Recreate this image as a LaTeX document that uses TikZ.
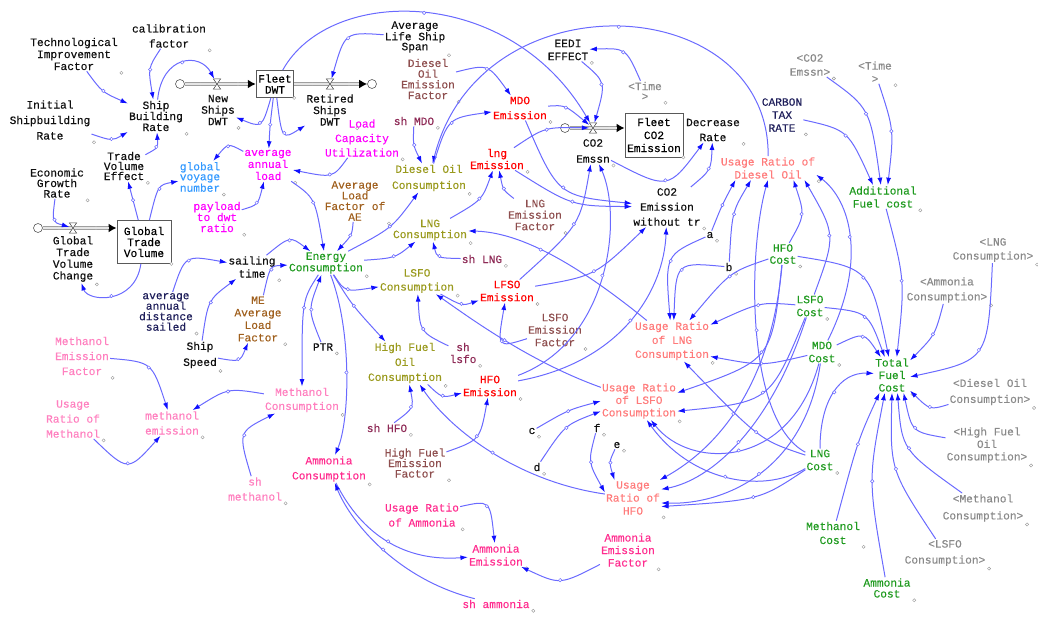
\documentclass[tikz,border=0pt]{standalone}
\usepackage{fontspec}
\newfontfamily\vmono[FakeBold=0.3]{Liberation Mono}
\usetikzlibrary{arrows.meta}
\definecolor{linkc}{HTML}{6A6AFF}
\definecolor{tipc}{HTML}{1010FF}
\definecolor{cblk}{HTML}{101010}
\definecolor{cblue}{HTML}{3399FF}
\definecolor{cmag}{HTML}{FF00FF}
\definecolor{colive}{HTML}{9A9A1E}
\definecolor{cgreen}{HTML}{1F9A1F}
\definecolor{cred}{HTML}{FF0000}
\definecolor{cbrown}{HTML}{8E4E4E}
\definecolor{csienna}{HTML}{A0601E}
\definecolor{cmaroon}{HTML}{8E2A56}
\definecolor{csalmon}{HTML}{FF7B7B}
\definecolor{clpink}{HTML}{FF80BF}
\definecolor{cpink}{HTML}{FF2D8F}
\definecolor{cnavy}{HTML}{1E1E5A}
\definecolor{cgray}{HTML}{8A8A8A}
\newcommand\vf[1]{\vmono\fontsize{11.2}{#1}\selectfont}
\begin{document}
\begin{tikzpicture}[x=1pt,y=-1pt,
  mk/.style={circle,draw=gray!80,fill=white,line width=0.4pt,inner sep=0pt,minimum size=3.2pt},
  hc/.style={circle,draw=linkc,fill=white,line width=0.5pt,inner sep=0pt,minimum size=3.4pt,pos=.5},
  v/.style={font=\vf{12},text=cblk,align=center,inner sep=1pt,
    append after command={node[mk] at ([shift={(2.5pt,-1.5pt)}]\tikzlastnode.south east) {}}},
  stock/.style={draw=gray!70!black,line width=0.8pt,fill=white,align=center,font=\vf{11},inner sep=2pt,
    append after command={node[mk] at (\tikzlastnode.south east) {}}},
  lk/.style={draw=linkc,line width=1pt,-{Latex[length=7.5pt,width=5pt,color=tipc]}},
  pipe/.style={draw=gray!75,line width=3.4pt,-{Latex[length=8pt,width=9pt,color=black]}},
  pipein/.style={draw=gray!20,line width=1.2pt,shorten >=8pt},
  valve/.style={rectangle,minimum width=7pt,minimum height=10pt,inner sep=0pt},
  hg/.style={draw=gray!50!black,fill=white,line width=0.5pt},
  cloudn/.style={circle,draw=gray!70!black,fill=white,line width=0.6pt,minimum size=9pt,inner sep=0pt}
]
\useasboundingbox (0,0) rectangle (1038,620);

% ---------- ship fleet sector ----------
\node[v] (tif) at (74,54) {Technological\\Improvement\\Factor};
\node[v,font=\vf{15}] (cal) at (169,36) {calibration\\factor};
\node[v,font=\vf{15.5}] (isr) at (50,120) {Initial\\Shipbuilding\\Rate};
\node[v,font=\vf{11}] (sbr) at (156,116) {Ship\\Building\\Rate};
\node[v,font=\vf{10.5}] (egr) at (57,183) {Economic\\Growth\\Rate};
\node[v,font=\vf{10}] (tve) at (124,166) {Trade\\Volume\\Effect};
\node[v,font=\vf{10},text=cblue] (gvn) at (200,177) {global\\voyage\\number};
\node[v,font=\vf{11.5}] (nsd) at (218,110) {New\\Ships\\DWT};
\node[stock,minimum width=36pt,minimum height=27pt] (fleet) at (275,84) {Fleet\\DWT};
\node[v,font=\vf{11.5}] (rsd) at (330,110) {Retired\\Ships\\DWT};
\node[v,font=\vf{10}] (alss) at (415,37) {Average\\Life Ship\\Span};

\node[v,font=\vf{10.7},text=cbrown] (doef) at (428,79) {Diesel\\Oil\\Emission\\Factor};
\node[v,text=cmaroon] (shmdo) at (414,121) {sh MDO};
\node[v,font=\vf{14.5},text=cmag] (lcu) at (362,138) {Load\\Capacity\\Utilization};
\node[v,text=cmag] (aal) at (268,165) {average\\annual\\load};
\node[v,font=\vf{16},text=colive] (doc) at (429,178) {Diesel Oil\\Consumption};
\node[v,font=\vf{10.7},text=csienna] (alfae) at (355,201) {Average\\Load\\Factor of\\AE};
\node[v,font=\vf{11},text=cmag] (ptdr) at (217,217) {payload\\to dwt\\ratio};
\node[stock,minimum width=54pt,minimum height=43pt] (gtv) at (144,242) {Global\\Trade\\Volume};
\node[v,font=\vf{11.7}] (gtvc) at (73,259) {Global\\Trade\\Volume\\Change};
\node[v,font=\vf{10.5},text=cnavy] (aads) at (166,312) {average\\annual\\distance\\sailed};
\node[v,font=\vf{13}] (st) at (252,267) {sailing\\time};
\node[v,font=\vf{16}] (ss) at (200,355) {Ship\\Speed};
\node[v,font=\vf{12.5},text=csienna] (meal) at (258,319) {ME\\Average\\Load\\Factor};
\node[v] (ptr) at (323,347) {PTR};
\node[v,font=\vf{10},text=cgreen] (ec) at (326,263) {Energy\\Consumption};

% ---------- fuels and emissions ----------
\node[v,font=\vf{11},text=colive] (lngc) at (430,230) {LNG\\Consumption};
\node[v,text=cmaroon] (shlng) at (482,259) {sh LNG};
\node[v,font=\vf{14},text=colive] (lsfoc) at (417,281) {LSFO\\Consumption};
\node[v,text=cmaroon] (shlsfo) at (463,353) {sh\\lsfo};
\node[v,font=\vf{15},text=colive] (hfoc) at (405,363) {High Fuel\\Oil\\Consumption};
\node[v,font=\vf{14},text=clpink] (mc) at (302,400) {Methanol\\Consumption};
\node[v,font=\vf{13},text=cred] (hfoe) at (490,386) {HFO\\Emission};
\node[v,font=\vf{13},text=cred] (lfsoe) at (507,291) {LFSO\\Emission};
\node[v,font=\vf{12.5},text=cbrown] (lsfoef) at (555,330) {LSFO\\Emission\\Factor};
\node[v,font=\vf{11.5},text=cbrown] (lngef) at (535,215) {LNG\\Emission\\Factor};
\node[v,text=cred] (lnge) at (497,159) {lng\\Emission};
\node[v,font=\vf{15},text=cred] (mdoe) at (520,108) {MDO\\Emission};
\node[v,font=\vf{16}] (co2e) at (593,151) {CO2\\Emssn};
\node[stock,font=\vf{13},minimum width=58pt,minimum height=44pt] (fco2) at (654,135) {Fleet\\CO2\\Emission};
\node[v,font=\vf{15}] (dr) at (713,130) {Decrease\\Rate};
\node[v,font=\vf{13}] (eedi) at (568,50) {EEDI\\EFFECT};
\node[v,font=\vf{10},text=cgray] (time1) at (645,91) {<Time\\>};
\node[v,font=\vf{15}] (co2wt) at (667,207) {CO2\\Emission\\without tr};

% ---------- costs and usage ratios ----------
\node[v,font=\vf{13},text=csalmon] (urdo) at (768,168) {Usage Ratio of\\Diesel Oil};
\node[v,font=\vf{13},text=cnavy] (ctr) at (782,115) {CARBON\\TAX\\RATE};
\node[v,font=\vf{14},text=cgray] (sco2) at (810,65) {<CO2\\Emssn>};
\node[v,font=\vf{13},text=cgray] (time2) at (875,72) {<Time\\>};
\node[v,font=\vf{13},text=cgreen] (afc) at (883,197) {Additional\\Fuel cost};
\node[v] (pa) at (710,235) {a};
\node[v] (pb) at (729,267) {b};
\node[v,text=cgreen] (hfocost) at (783,254) {HFO\\Cost};
\node[v,font=\vf{13},text=cgreen] (lsfocost) at (810,306) {LSFO\\Cost};
\node[v,font=\vf{13},text=cgreen] (mdocost) at (822,352) {MDO\\Cost};
\node[v,font=\vf{12.5},text=cgreen] (tfc) at (892,375) {Total\\Fuel\\Cost};
\node[v,font=\vf{14},text=cgray] (slng) at (993,250) {<LNG\\Consumption>};
\node[v,font=\vf{15},text=cgray] (samm) at (947,290) {<Ammonia\\Consumption>};
\node[v,font=\vf{16},text=cgray] (sdo) at (990,392) {<Diesel Oil\\Consumption>};
\node[v,font=\vf{12.5},text=cgray] (shfo) at (987,445) {<High Fuel\\Oil\\Consumption>};
\node[v,font=\vf{17},text=cgray] (smeth) at (983,508) {<Methanol\\Consumption>};
\node[v,font=\vf{16},text=cgray] (slsfo) at (945,553) {<LSFO\\Consumption>};
\node[v,font=\vf{13},text=cgreen] (lngcost) at (820,460) {LNG\\Cost};
\node[v,font=\vf{14},text=cgreen] (mcost) at (833,533) {Methanol\\Cost};
\node[v,font=\vf{11},text=cgreen] (acost) at (887,588) {Ammonia\\Cost};
\node[v,font=\vf{14},text=csalmon] (urlng) at (672,341) {Usage Ratio\\of LNG\\Consumption};
\node[v,font=\vf{12.5},text=csalmon] (urlsfo) at (639,401) {Usage Ratio\\of LSFO\\Consumption};
\node[v,font=\vf{13},text=csalmon] (urhfo) at (633,498) {Usage\\Ratio of\\HFO};
\node[v] (pc) at (532,431) {c};
\node[v] (pd) at (537,467) {d};
\node[v] (pf) at (597,428) {f};
\node[v] (pe) at (617,445) {e};

% ---------- methanol and ammonia ----------
\node[v,font=\vf{12.5},text=cpink] (aef) at (628,550) {Ammonia\\Emission\\Factor};
\node[v,font=\vf{13},text=cpink] (ae) at (496,555) {Ammonia\\Emission};
\node[v,text=cpink] (sham) at (496,604) {sh ammonia};
\node[v,font=\vf{15},text=cpink] (ura) at (422,515) {Usage Ratio\\of Ammonia};
\node[v,font=\vf{15},text=cpink] (ac) at (329,469) {Ammonia\\Consumption};
\node[v,font=\vf{10.5},text=cbrown] (hfef) at (415,463) {High Fuel\\Emission\\Factor};
\node[v,text=cmaroon] (shhfo) at (387,428) {sh HFO};
\node[v,font=\vf{15},text=clpink] (shmeth) at (255,489) {sh\\methanol};
\node[v,font=\vf{15},text=clpink] (mef) at (82,356) {Methanol\\Emission\\Factor};
\node[v,font=\vf{15},text=clpink] (urm) at (73,419) {Usage\\Ratio of\\Methanol};
\node[v,font=\vf{15},text=clpink] (me) at (172,423) {methanol\\emission};

% ---------- flows: clouds, pipes, valves ----------
\node[valve] (vNew) at (217,84) {};
\node[valve] (vRet) at (330,84) {};
\node[valve] (vGT) at (73,228) {};
\node[valve] (vCO2) at (593,128) {};
\node[cloudn] (c1) at (180,84) {};
\node[cloudn] (c2) at (372,84) {};
\node[cloudn] (c3) at (38,228) {};
\node[cloudn] (c4) at (565,128) {};
\draw[pipe] (c1) -- (fleet) node[mk,pos=.22]{} node[mk,pos=.75]{};
\draw[pipein] (c1) -- (fleet);
\draw[pipe] (fleet) -- (c2) node[mk,pos=.25]{} node[mk,pos=.75]{};
\draw[pipein] (fleet) -- (c2);
\draw[pipe] (c3) -- (gtv.west |- c3) node[mk,pos=.22]{} node[mk,pos=.72]{};
\draw[pipein] (c3) -- (gtv.west |- c3);
\draw[pipe] (c4) -- (fco2.west |- c4) node[mk,pos=.72]{};
\draw[pipein] (c4) -- (fco2.west |- c4);
\foreach \vv in {vNew,vRet,vGT,vCO2}
  \draw[hg] (\vv.north west) -- (\vv.north east) -- (\vv.south west) -- (\vv.south east) -- cycle;

% ---------- causal links: fleet and trade ----------
\draw[lk] (tif) .. controls (102,92) .. (sbr) node[hc]{};
\draw[lk] (cal) .. controls (148,68) .. (sbr) node[hc]{};
\draw[lk] (isr) .. controls (112,141) .. (sbr) node[hc]{};
\draw[lk] (tve) .. controls (158,148) .. (sbr) node[hc]{};
\draw[lk] (sbr) .. controls (162,55) and (200,52) .. (vNew) node[hc]{};
\draw[lk] (fleet) .. controls (262,128) .. (nsd) node[hc]{};
\draw[lk] (aal) .. controls (228,143) .. (gvn) node[hc]{};
\draw[lk] (alss) .. controls (345,32) .. (vRet) node[hc]{};
\draw[lk] (fleet) .. controls (282,140) .. (rsd) node[hc]{};
\draw[lk] (fleet) .. controls (270,125) .. (aal) node[hc]{};
\draw[lk] (fleet) .. controls (330,-15) and (510,-15) .. (vCO2) node[hc]{};
\draw[lk] (urdo) .. controls (770,-10) and (480,-25) .. (doc) node[hc]{};
\draw[lk] (doef) .. controls (488,64) .. (mdoe) node[hc]{};
\draw[lk] (shmdo) .. controls (413,145) .. (doc) node[hc]{};
\draw[lk] (doc) .. controls (448,118) .. (mdoe) node[hc]{};
\draw[lk] (lcu) .. controls (333,178) .. (aal) node[hc]{};
\draw[lk] (ptdr) .. controls (258,205) .. (aal) node[hc]{};
\draw[lk] (aal) .. controls (315,198) .. (ec) node[hc]{};
\draw[lk] (alfae) .. controls (352,235) .. (ec) node[hc]{};
\draw[lk] (st) .. controls (290,236) .. (ec) node[hc]{};
\draw[lk] (meal) .. controls (270,266) .. (ec) node[hc]{};
\draw[lk] (ss) .. controls (240,362) .. (meal) node[hc]{};
\draw[lk] (ss) .. controls (208,300) .. (st) node[hc]{};
\draw[lk] (aads) .. controls (185,255) .. (st) node[hc]{};
\draw[lk] (gtv) .. controls (135,305) and (88,302) .. (gtvc) node[hc]{};
\draw[lk] (egr) .. controls (52,222) .. (vGT) node[hc]{};
\draw[lk] (gtv) .. controls (133,200) .. (tve) node[hc]{};
\draw[lk] (gtv) .. controls (158,185) .. (gvn) node[hc]{};

% ---------- energy use by fuel ----------
\draw[lk] (ec) .. controls (392,228) .. (doc) node[hc]{};
\draw[lk] (ec) .. controls (395,258) .. (lngc) node[hc]{};
\draw[lk] (ec) .. controls (345,292) .. (lsfoc) node[hc]{};
\draw[lk] (ec) .. controls (352,305) .. (hfoc) node[hc]{};
\draw[lk] (ec) .. controls (302,300) .. (mc) node[hc]{};
\draw[lk] (ptr) .. controls (308,310) .. (ec) node[hc]{};
\draw[lk] (ec) .. controls (352,330) and (350,420) .. (ac) node[hc]{};

\draw[lk] (mc) .. controls (228,388) .. (me) node[hc]{};
\draw[lk] (shmeth) .. controls (238,432) .. (mc) node[hc]{};
\draw[lk] (mef) .. controls (152,362) .. (me) node[hc]{};
\draw[lk] (urm) .. controls (128,472) .. (me) node[hc]{};

\draw[lk] (ac) .. controls (362,535) and (405,562) .. (ae) node[hc]{};
\draw[lk] (sham) .. controls (400,580) and (352,525) .. (ac) node[hc]{};
\draw[lk] (ura) .. controls (490,500) .. (ae) node[hc]{};
\draw[lk] (aef) .. controls (560,585) .. (ae) node[hc]{};

\draw[lk] (hfoc) .. controls (442,398) .. (hfoe) node[hc]{};
\draw[lk] (shhfo) .. controls (414,408) .. (hfoc) node[hc]{};
\draw[lk] (hfef) .. controls (480,440) .. (hfoe) node[hc]{};
\draw[lk] (urhfo) .. controls (520,482) and (452,432) .. (hfoc) node[hc]{};
\draw[lk] (hfoe) .. controls (622,362) and (664,290) .. (co2wt) node[hc]{};
\draw[lk] (hfoe) .. controls (612,340) and (622,215) .. (co2e) node[hc]{};

\draw[lk] (lsfoc) .. controls (462,306) .. (lfsoe) node[hc]{};
\draw[lk] (urlsfo) .. controls (530,362) and (470,318) .. (lsfoc) node[hc]{};
\draw[lk] (shlsfo) .. controls (420,332) .. (lsfoc) node[hc]{};
\draw[lk] (lsfoef) .. controls (497,348) .. (lfsoe) node[hc]{};
\draw[lk] (lfsoe) .. controls (595,276) .. (co2wt) node[hc]{};
\draw[lk] (lfsoe) .. controls (580,225) .. (co2e) node[hc]{};

\draw[lk] (lngc) .. controls (482,200) .. (lnge) node[hc]{};
\draw[lk] (lngef) .. controls (503,190) .. (lnge) node[hc]{};
\draw[lk] (shlng) .. controls (437,258) .. (lngc) node[hc]{};
\draw[lk] (urlng) .. controls (560,250) and (510,232) .. (lngc) node[hc]{};

% ---------- emissions ----------
\draw[lk] (mdoe) .. controls (565,105) .. (vCO2) node[hc]{};
\draw[lk] (lnge) .. controls (545,127) .. (vCO2) node[hc]{};
\draw[lk] (mdoe) .. controls (558,196) .. (co2wt) node[hc]{};
\draw[lk] (lnge) .. controls (572,206) .. (co2wt) node[hc]{};
\draw[lk] (eedi) .. controls (606,82) .. (vCO2) node[hc]{};
\draw[lk] (time1) .. controls (626,48) .. (eedi) node[hc]{};
\draw[lk] (co2e) .. controls (668,190) .. (dr) node[hc]{};
\draw[lk] (co2wt) .. controls (711,170) .. (dr) node[hc]{};

% ---------- usage ratios ----------
\draw[lk] (pa) .. controls (665,255) .. (urlng.95) node[hc]{};
\draw[lk] (pb) .. controls (676,262) .. (urlng.85) node[hc]{};
\draw[lk] (pa) .. controls (722,205) .. (urdo.200) node[hc]{};
\draw[lk] (pb) .. controls (732,212) .. (urdo.215) node[hc]{};
\draw[lk] (pc) .. controls (568,410) .. (urlsfo.180) node[hc]{};
\draw[lk] (pd) .. controls (565,425) .. (urlsfo.195) node[hc]{};
\draw[lk] (pf) .. controls (588,462) .. (urhfo.169) node[hc]{};
\draw[lk] (pe) .. controls (609,462) .. (urhfo.136) node[hc]{};

\draw[lk] (hfocost) .. controls (805,215) .. (urdo.335) node[hc]{};
\draw[lk] (hfocost) .. controls (730,272) .. (urlng.50) node[hc]{};
\draw[lk] (hfocost) .. controls (772,360) .. (urlsfo.12) node[hc]{};
\draw[lk] (hfocost) .. controls (770,400) and (705,455) .. (urhfo.34) node[hc]{};
\draw[lk] (hfocost) .. controls (870,268) .. (tfc.100) node[hc]{};

\draw[lk] (lsfocost) .. controls (836,235) .. (urdo.342) node[hc]{};
\draw[lk] (lsfocost) .. controls (760,302) .. (urlng.23) node[hc]{};
\draw[lk] (lsfocost) .. controls (770,402) .. (urlsfo.345) node[hc]{};
\draw[lk] (lsfocost) .. controls (770,430) and (710,480) .. (urhfo.17) node[hc]{};
\draw[lk] (lsfocost) .. controls (868,312) .. (tfc.112) node[hc]{};

\draw[lk] (mdocost) .. controls (868,260) and (850,200) .. (urdo.352) node[hc]{};
\draw[lk] (mdocost) .. controls (762,366) .. (urlng.338) node[hc]{};
\draw[lk] (mdocost) .. controls (790,470) and (690,470) .. (urlsfo.302) node[hc]{};
\draw[lk] (mdocost) .. controls (805,470) and (725,505) .. (urhfo.350) node[hc]{};
\draw[lk] (mdocost) .. controls (864,332) .. (tfc.122) node[hc]{};

\draw[lk] (lngcost) .. controls (745,420) and (748,250) .. (urdo.south) node[hc]{};
\draw[lk] (lngcost) .. controls (760,440) .. (urlng.300) node[hc]{};
\draw[lk] (lngcost) .. controls (760,495) and (690,480) .. (urlsfo.292) node[hc]{};
\draw[lk] (lngcost) .. controls (760,500) .. (urhfo.343) node[hc]{};
\draw[lk] (lngcost) .. controls (820,400) and (840,372) .. (tfc.175) node[hc]{};

% ---------- cost totals ----------
\draw[lk] (sco2) .. controls (870,108) .. (afc.100) node[hc]{};
\draw[lk] (time2) .. controls (894,130) .. (afc.68) node[hc]{};
\draw[lk] (ctr) .. controls (848,130) .. (afc.130) node[hc]{};
\draw[lk] (afc) .. controls (905,280) .. (tfc.75) node[hc]{};
\draw[lk] (mcost) .. controls (858,440) .. (tfc.235) node[hc]{};
\draw[lk] (acost) .. controls (868,480) .. (tfc.248) node[hc]{};
\draw[lk] (slsfo) .. controls (890,470) .. (tfc.270) node[hc]{};
\draw[lk] (smeth) .. controls (902,450) .. (tfc.287) node[hc]{};
\draw[lk] (shfo) .. controls (912,432) .. (tfc.303) node[hc]{};
\draw[lk] (samm) .. controls (935,335) .. (tfc.39) node[hc]{};
\draw[lk] (slng) .. controls (988,360) .. (tfc.354) node[hc]{};
\draw[lk] (sdo) .. controls (930,410) .. (tfc.319) node[hc]{};
\end{tikzpicture}
\end{document}
